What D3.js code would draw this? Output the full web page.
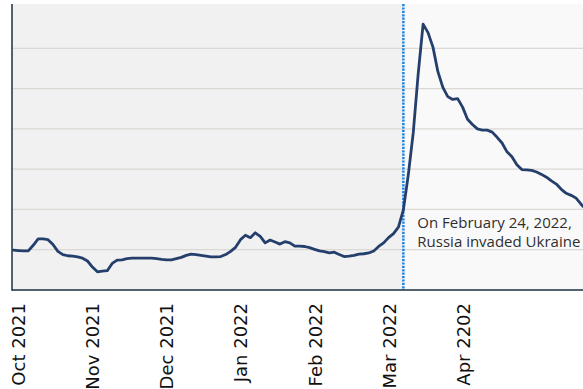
<!DOCTYPE html>
<html>
<head>
<meta charset="utf-8">
<script src="https://cdn.jsdelivr.net/npm/d3@7"></script>
<style>
  html, body { margin: 0; padding: 0; background: #ffffff; }
  svg { display: block; }
</style>
</head>
<body>
<svg id="chart" width="583" height="389"></svg>
<script>
// Month labels along the bottom axis, placed at day offsets on an even 30-day grid
const monthLabels = ["Oct 2021", "Nov 2021", "Dec 2021", "Jan 2022", "Feb 2022", "Mar 2022", "Apr 2202"];
const monthStarts = [0, 30, 60, 90, 120, 150, 180];

// Series sampled every other day, starting two days before the first label
const firstDay = -2;
const dayStep = 2;
const values = [
  0.99, 0.98, 0.97, 0.97, 1.11, 1.27, 1.27, 1.25, 1.13, 0.96,
  0.88, 0.85, 0.84, 0.82, 0.79, 0.72, 0.57, 0.45, 0.47, 0.48,
  0.66, 0.74, 0.75, 0.78, 0.79, 0.79, 0.79, 0.79, 0.79, 0.78,
  0.76, 0.75, 0.75, 0.78, 0.81, 0.86, 0.89, 0.88, 0.86, 0.84,
  0.82, 0.82, 0.83, 0.88, 0.96, 1.06, 1.25, 1.36, 1.30, 1.42,
  1.33, 1.17, 1.24, 1.19, 1.14, 1.20, 1.17, 1.09, 1.09, 1.08,
  1.05, 1.01, 0.97, 0.95, 0.92, 0.94, 0.88, 0.83, 0.84, 0.86,
  0.89, 0.90, 0.92, 0.97, 1.08, 1.17, 1.30, 1.40, 1.56, 1.99,
  2.86, 3.90, 5.36, 6.60, 6.39, 6.03, 5.42, 5.03, 4.80, 4.73,
  4.75, 4.54, 4.24, 4.11, 4.00, 3.97, 3.97, 3.92, 3.79, 3.65,
  3.43, 3.31, 3.11, 2.99, 2.98, 2.97, 2.93, 2.87, 2.80, 2.71,
  2.63, 2.50, 2.40, 2.35, 2.28, 2.13, 2.00
];

// Horizontal reference lines
const gridValues = [1, 2, 3, 4, 5, 6];

// Marked event
const eventDay = 156;
const eventText = ["On February 24, 2022,", "Russia invaded Ukraine"];

const points = values.map((v, i) => ({ day: firstDay + i * dayStep, value: v }));

const svg = d3.select("#chart");
const plotLeft = 12, plotRight = 583, plotTop = 4, plotBottom = 290;

const x = d3.scaleLinear().domain([-2.6, 228.8]).range([plotLeft, plotRight]);
const y = d3.scaleLinear().domain([0, 7.1]).range([plotBottom, plotTop]);

svg.append("defs").append("clipPath").attr("id", "plot-clip")
  .append("rect")
  .attr("x", plotLeft).attr("y", plotTop)
  .attr("width", plotRight - plotLeft).attr("height", plotBottom - plotTop);

// Background: darker before the event, lighter after it
svg.append("rect")
  .attr("x", plotLeft).attr("y", plotTop)
  .attr("width", x(eventDay) - plotLeft).attr("height", plotBottom - plotTop)
  .attr("fill", "#f1f1f1");
svg.append("rect")
  .attr("x", x(eventDay)).attr("y", plotTop)
  .attr("width", plotRight - x(eventDay)).attr("height", plotBottom - plotTop)
  .attr("fill", "#f9f9f9");

// Gridlines
svg.append("g")
  .selectAll("line")
  .data(gridValues)
  .join("line")
  .attr("x1", plotLeft).attr("x2", plotRight)
  .attr("y1", d => y(d)).attr("y2", d => y(d))
  .attr("stroke", "#dcd8d3")
  .attr("stroke-width", 1.3);

// Event marker
svg.append("line")
  .attr("x1", x(eventDay)).attr("x2", x(eventDay))
  .attr("y1", plotTop).attr("y2", plotBottom)
  .attr("stroke", "#1a84e4")
  .attr("stroke-width", 2.5)
  .attr("stroke-dasharray", "2.2,1.2");

// Series line
const line = d3.line()
  .x(d => x(d.day))
  .y(d => y(d.value))
  .curve(d3.curveLinear);

svg.append("path")
  .datum(points)
  .attr("clip-path", "url(#plot-clip)")
  .attr("d", line)
  .attr("fill", "none")
  .attr("stroke", "#253f6d")
  .attr("stroke-width", 2.8)
  .attr("stroke-linejoin", "round")
  .attr("stroke-linecap", "round");

// Event annotation
const note = svg.append("text")
  .attr("x", x(eventDay) + 14)
  .attr("y", 228)
  .attr("fill", "#2f2f2f")
  .style("font-family", "'Open Sans', 'Noto Sans', sans-serif")
  .style("font-size", "15px");
note.selectAll("tspan")
  .data(eventText)
  .join("tspan")
  .attr("x", x(eventDay) + 14)
  .attr("dy", (d, i) => i === 0 ? 0 : 18.5)
  .text(d => d);

// Bottom axis with rotated month labels
const xAxis = d3.axisBottom(x)
  .tickValues(monthStarts)
  .tickFormat((d, i) => monthLabels[i])
  .tickSize(0);

const gx = svg.append("g")
  .attr("transform", `translate(0,${plotBottom})`)
  .call(xAxis);
gx.select(".domain").remove();
gx.selectAll("text")
  .attr("transform", "rotate(-90)")
  .attr("x", -13)
  .attr("y", 0)
  .attr("dy", "0.36em")
  .style("text-anchor", "end")
  .style("font-family", "'DejaVu Sans', sans-serif")
  .style("font-size", "18px")
  .attr("fill", "#111111");

// Axis lines
svg.append("line")
  .attr("x1", plotLeft).attr("x2", plotRight)
  .attr("y1", plotBottom).attr("y2", plotBottom)
  .attr("stroke", "#1c2f42").attr("stroke-width", 1.5);
svg.append("line")
  .attr("x1", plotLeft).attr("x2", plotLeft)
  .attr("y1", plotTop).attr("y2", plotBottom + 0.75)
  .attr("stroke", "#1c2f42").attr("stroke-width", 1.5);
</script>
</body>
</html>
